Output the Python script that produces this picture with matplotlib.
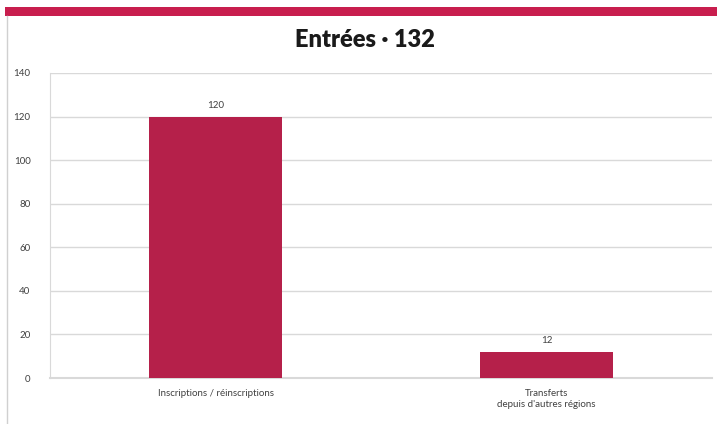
import matplotlib.pyplot as plt
from matplotlib.patches import Rectangle
from matplotlib.lines import Line2D

plt.rcParams['font.family'] = ['Lato', 'DejaVu Sans']

# données
categories = ['Inscriptions / réinscriptions', 'Transferts\ndepuis d\'autres régions']
valeurs = [120, 12]
titre = 'Entrées · 132'

bar_color = '#B5204A'
band_color = '#C81E4E'

fig = plt.figure(figsize=(7.17, 4.24), dpi=100)
fig.patch.set_facecolor('white')

# bandeau rouge en haut + bord gauche
fig.add_artist(Rectangle((5 / 717, 1 - 16 / 424), 1, 9 / 424, transform=fig.transFigure,
                         color=band_color, lw=0))
fig.add_artist(Line2D([7 / 717, 7 / 717], [0, 1 - 16 / 424], transform=fig.transFigure,
                      color='#d0d0d0', lw=1))

ax = fig.add_axes([50 / 717, 1 - 378 / 424, 662 / 717, 305 / 424])
x = list(range(len(categories)))
bars = ax.bar(x, valeurs, width=0.4, color=bar_color, zorder=3)
for b, v in zip(bars, valeurs):
    ax.text(b.get_x() + b.get_width() / 2, v + 3, str(v), ha='center', va='bottom',
            fontsize=7, color='#404040')

ax.set_xlim(-0.5, 1.5)
ax.set_ylim(0, 140)
ax.set_yticks(range(0, 141, 20))
ax.set_xticks(x)
ax.set_xticklabels(categories, fontsize=7, color='#404040')
ax.tick_params(axis='y', labelsize=7, labelcolor='#404040', length=0, pad=14)
ax.tick_params(axis='x', length=0, pad=8)
ax.grid(axis='y', color='#d9d9d9', lw=1, zorder=0)
for s in ['top', 'right']:
    ax.spines[s].set_visible(False)
ax.spines['left'].set_color('#d9d9d9')
ax.spines['bottom'].set_color('#d9d9d9')
ax.spines['bottom'].set_linewidth(1.5)

fig.text(365 / 717, 1 - 47 / 424, titre, ha='center', va='baseline', fontsize=17,
         fontweight='heavy', color='#1a1a1a')

plt.savefig('out.png', dpi=100)
